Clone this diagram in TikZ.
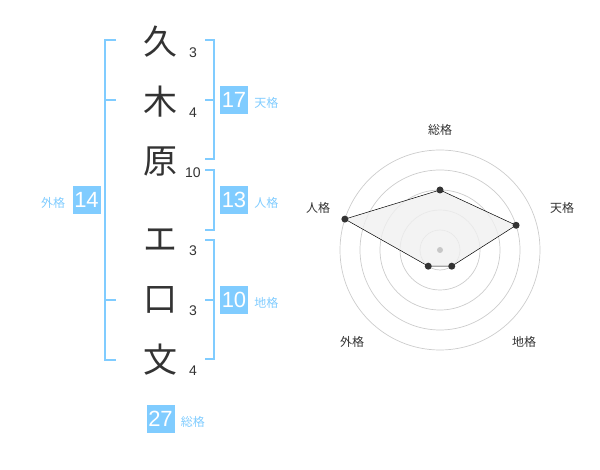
\documentclass[tikz,border=0pt]{standalone}
\usepackage{fontspec}
\setmainfont{Liberation Sans}
\newfontfamily\jpfont{Noto Sans CJK JP}
\usepackage{xcolor}
\definecolor{kakusu}{HTML}{80CCFF}
\definecolor{moji}{HTML}{333333}
\tikzset{every picture/.style={x=1pt,y=-1pt},
  kanji/.style={text=moji,font=\jpfont\fontsize{34}{34}\selectfont,inner sep=0pt},
  strokes/.style={text=moji,font=\fontsize{14}{14}\selectfont,inner sep=0pt},
  kakubox/.style={fill=kakusu,text=white,minimum width=28pt,minimum height=28pt,inner sep=0pt,font=\fontsize{22}{22}\selectfont},
  kakuname/.style={text=kakusu,font=\jpfont\fontsize{12}{12}\selectfont,inner sep=0pt},
  bracket/.style={draw=kakusu,line width=2.5pt},
  ring/.style={draw=black!20,line width=0.7pt},
  axisname/.style={text=moji,font=\jpfont\fontsize{12}{12}\selectfont,inner sep=0pt}}
\begin{document}
\begin{tikzpicture}
        \useasboundingbox (0,0) rectangle (600,470);

        % name and strokes
        \foreach \i/\ch/\y/\n in {1/久/42/3, 2/木/102/4, 3/原/162/10,
                                  4/エ/240/3, 5/口/300/3, 6/文/360/4}
        {
          \node[kanji] (c\i) at (160,\y) {\ch};
          \node[strokes] (s\i) at (193,\y+11) {\n};
        }

        % brackets
        \draw[bracket] (116,40) -| (105,360) -- (116,360);
        \draw[bracket] (105,100) -- (116,100);
        \draw[bracket] (105,300) -- (116,300);
        \draw[bracket] (205,40) -| (214,159) -- (205,159);
        \draw[bracket] (214,100) -- (205,100);
        \draw[bracket] (205,170) -| (214,230) -- (205,230);
        \draw[bracket] (205,240) -| (214,359) -- (205,359);
        \draw[bracket] (214,300) -- (205,300);

        % scores
        \node[kakubox] (kten) at (234,100) {17};
        \node[kakubox] (kjin) at (234,200) {13};
        \node[kakubox] (kchi) at (234,300) {10};
        \node[kakubox] (kgai) at (86.5,200) {14};
        \node[kakubox] (kso) at (160.5,419) {27};
        \node[kakuname,anchor=west] (nten) at ([xshift=6pt,yshift=-3pt]kten.east) {天格};
        \node[kakuname,anchor=west] (njin) at ([xshift=6pt,yshift=-3pt]kjin.east) {人格};
        \node[kakuname,anchor=west] (nchi) at ([xshift=6pt,yshift=-3pt]kchi.east) {地格};
        \node[kakuname,anchor=west] (nso) at ([xshift=6pt,yshift=-3pt]kso.east) {総格};
        \node[kakuname,anchor=east] (ngai) at ([xshift=-7pt,yshift=-3pt]kgai.west) {外格};

        % radar
        \begin{scope}[shift={(440,250)}]
          \foreach \r in {20,40,60,80,100}
            \draw[ring] (0,0) circle (\r pt);
          \foreach \name/\ang/\val in {so/-90/60, ten/-18/80, chi/54/20, gai/126/20, jin/198/100}
            \coordinate (p\name) at (\ang:\val);
          \filldraw[fill=black!6,fill opacity=0.8,draw=black,line width=0.5pt]
            (pso) -- (pten) -- (pchi) -- (pgai) -- (pjin) -- cycle;
          \fill[black!22] (0,0) circle (3pt);
          \foreach \name in {so,ten,chi,gai,jin}
            \fill[moji] (p\name) circle (3.5pt);
        \end{scope}
        \node[axisname] (aso) at (440,130) {総格};
        \node[axisname] (aten) at (562,208) {天格};
        \node[axisname] (achi) at (524,342) {地格};
        \node[axisname] (agai) at (352,342) {外格};
        \node[axisname] (ajin) at (318,208) {人格};
    \end{tikzpicture}
\end{document}
